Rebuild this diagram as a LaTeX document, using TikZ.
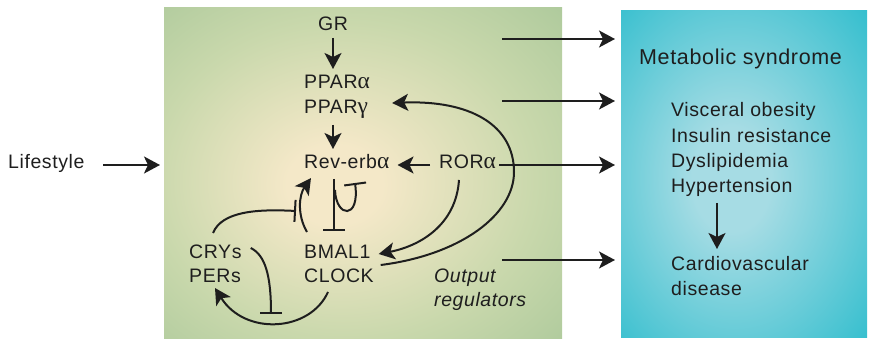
\documentclass[tikz,border=0pt]{standalone}
\usepackage{fontspec}
\setmainfont{Liberation Sans}[LetterSpace=3]
\newfontfamily\grk{Liberation Serif}[Scale=1.2]
\usetikzlibrary{arrows.meta,calc}
\definecolor{beigeC}{HTML}{F4E8C8}
\definecolor{midG}{HTML}{C9D8AC}
\definecolor{greenC}{HTML}{9DC192}
\definecolor{cyanIn}{HTML}{A6DCE4}
\definecolor{cyanOut}{HTML}{1FB9CA}
\definecolor{inkC}{HTML}{1E1E1E}
\pgfdeclareradialshading{greenrad}{\pgfpoint{-4bp}{-2bp}}{color(0bp)=(beigeC); color(6bp)=(beigeC); color(24bp)=(midG); color(46bp)=(greenC); color(60bp)=(greenC)}
\pgfdeclareradialshading{cyanrad}{\pgfpoint{-3bp}{-1bp}}{color(0bp)=(cyanIn); color(8bp)=(cyanIn); color(42bp)=(cyanOut); color(60bp)=(cyanOut)}
\newcommand{\gralpha}{{\grk\char"03B1}}
\newcommand{\grgamma}{{\grk\char"03B3}}
\tikzset{
  txt/.style={anchor=base west, inner sep=0pt, font=\fontsize{19.5}{23}\selectfont, text=inkC},
  big/.style={anchor=base west, inner sep=0pt, font=\fontsize{21.5}{26}\selectfont, text=inkC},
  arr/.style={line width=2pt, draw=inkC, -{Stealth[length=16pt,width=17pt,inset=4pt]}},
  inh/.style={line width=2pt, draw=inkC, -{Bar[width=22pt,line width=2pt]}}
}
\begin{document}
\begin{tikzpicture}[x=1pt,y=-1pt]
\useasboundingbox (0,0) rectangle (871,339);
% boxes
\node[anchor=north west, minimum width=398pt, minimum height=331pt, inner sep=0pt, shading=greenrad] (greenbox) at (164,7) {};
\node[anchor=north west, minimum width=246pt, minimum height=327pt, inner sep=0pt, shading=cyanrad] (cyanbox) at (621,10) {};
% texts left
\node[txt] (life) at (8,169) {Lifestyle};
\node[txt, anchor=base] (gr) at (333,31) {GR};
\node[txt] (ppa) at (304,89) {PPAR\gralpha};
\node[txt] (ppg) at (304,114) {PPAR\grgamma};
\node[txt] (rev) at (304,169) {Rev-erb\gralpha};
\node[txt] (rora) at (439,169) {ROR\gralpha};
\node[txt] (bmal) at (304,259) {BMAL1};
\node[txt] (clock) at (304,283) {CLOCK};
\node[txt] (crys) at (189,259) {CRYs};
\node[txt] (pers) at (189,283) {PERs};
\node[txt, font=\fontsize{19.5}{23}\selectfont\itshape] (outp) at (434,283) {Output};
\node[txt, font=\fontsize{19.5}{23}\selectfont\itshape] (regs) at (434,307) {regulators};
% texts right
\node[big] (mets) at (639,65) {Metabolic syndrome};
\node[txt] (visc) at (671,117) {Visceral obesity};
\node[txt] (insu) at (671,143) {Insulin resistance};
\node[txt] (dysl) at (671,168) {Dyslipidemia};
\node[txt] (hype) at (671,193) {Hypertension};
\node[txt] (card) at (671,271) {Cardiovascular};
\node[txt] (dise) at (671,296) {disease};
% coordinates for output arrows
\coordinate (o1) at (502,39);
\coordinate (o2) at (502,101);
\coordinate (o4) at (502,260);
\coordinate (lf) at (103,165);
% lifestyle
\draw[arr] (lf) -- ($(greenbox.west |- life.base)+(-4,-4)$);
% output arrows
\draw[arr] (o1) -- ($(o1 -| cyanbox.west)+(-6,0)$);
\draw[arr] (o2) -- ($(o2 -| cyanbox.west)+(-6,0)$);
\draw[arr] ($(rora.base east)+(3,-4)$) -- ($(cyanbox.west |- rora.base)+(-6,-4)$);
\draw[arr] (o4) -- ($(o4 -| cyanbox.west)+(-6,0)$);
% GR -> PPAR
\draw[arr] ($(gr.base)+(0,7)$) -- ($(ppa.base west)+(29,-20)$);
% PPAR -> Rev-erb
\draw[arr] ($(ppg.base west)+(29,11)$) -- ($(rev.base west)+(29,-20)$);
% ROR -> Rev-erb
\draw[arr] ($(rora.base west)+(-9,-4)$) -- ($(rev.base east)+(8,-4)$);
% big curve CLOCK -> PPARg
\draw[arr] ($(bmal.base east)+(10,6)$) .. controls (460,255) and (514,215) .. (514,172)
  .. controls (514,125) and (470,100) .. ($(ppg.base east)+(24,-11)$);
% ROR -> BMAL1
\draw[arr] ($(rora.base west)+(20,11)$) .. controls (456,225) and (420,246) .. ($(bmal.base east)+(8,-5)$);
% Rev-erb -| BMAL1
\draw[inh] ($(rev.base west)+(30,10)$) -- ($(bmal.base west)+(30,-28)$);
% self inhibition loop
\draw[inh] ($(rev.base west)+(31,21)$) .. controls (336,218) and (360,220) .. ($(rev.base west)+(51,14)$);
% BMAL1 -> Rev-erb
\draw[arr] ($(bmal.base west)+(3,-27)$) .. controls (297,215) and (299,195) .. ($(rev.base west)+(7,9)$);
% CRYs -| (BMAL1 -> Rev-erb)
\draw[inh] ($(crys.base west)+(24,-26)$) .. controls (222,211) and (258,209) .. (296,211);
% CLOCK -> PERs
\draw[arr] ($(clock.base west)+(24,9)$) .. controls (310,332) and (245,336) .. ($(pers.base west)+(26,5)$);
% CRYs -| (CLOCK -> PERs)
\draw[inh] ($(crys.base east)+(9,-11)$) .. controls (265,255) and (271,275) .. (271,314);
% metabolic -> cardio
\draw[arr] ($(hype.base west)+(46,10)$) -- ($(card.base west)+(46,-22)$);
\end{tikzpicture}
\end{document}
